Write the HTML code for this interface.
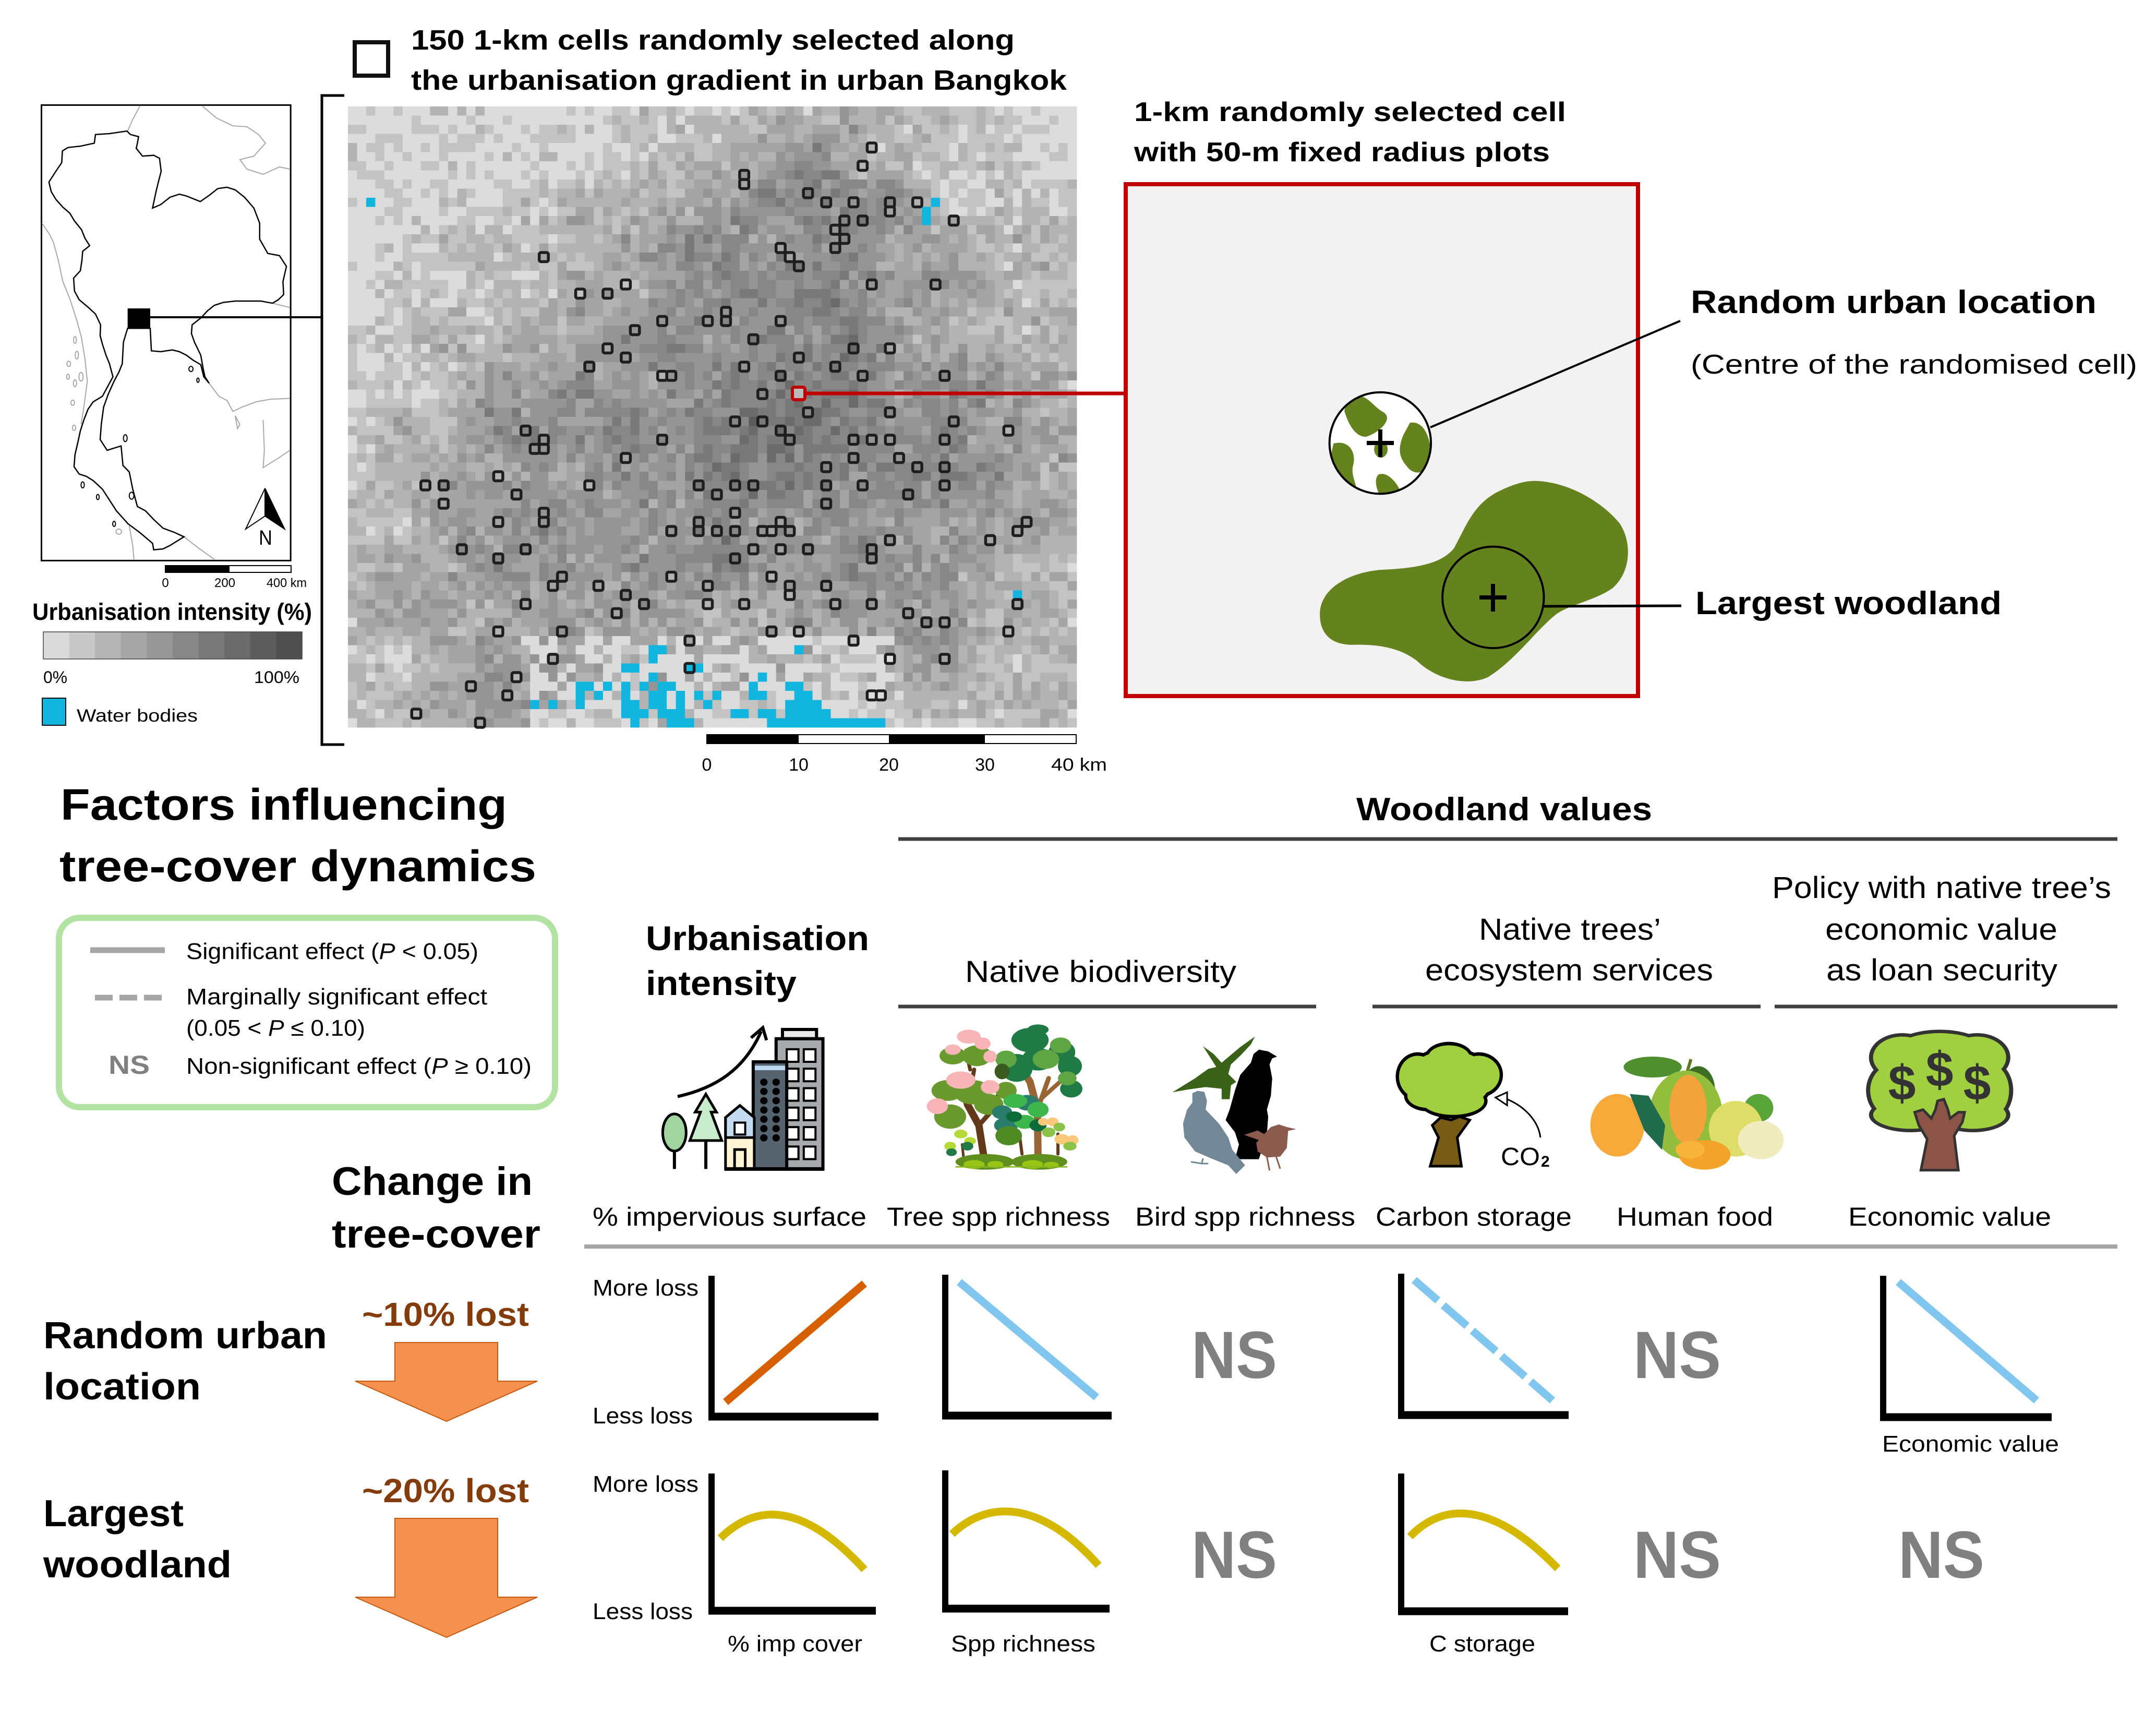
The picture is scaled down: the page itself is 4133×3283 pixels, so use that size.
<!DOCTYPE html>
<html><head><meta charset="utf-8">
<style>
html,body{margin:0;padding:0;background:#fff;width:4133px;height:3283px;overflow:hidden;}
svg{display:block;}
text{font-family:"Liberation Sans",Arial,sans-serif;}
.z *{vector-effect:non-scaling-stroke;}
.b{font-weight:bold;}
</style></head><body>
<svg id="main" xmlns="http://www.w3.org/2000/svg" width="4133" height="3283" viewBox="0 0 4133 3283">
<defs>
<radialGradient id="mapg" cx="0.58" cy="0.52" r="0.6">
<stop offset="0" stop-color="#8a8a8a"/><stop offset="0.5" stop-color="#a6a6a6"/><stop offset="1" stop-color="#d2d2d2"/>
</radialGradient>
<clipPath id="smallc"><ellipse cx="421" cy="877" rx="75" ry="122"/></clipPath>
</defs>
<rect width="4133" height="3283" fill="#fff"/>

<!-- ===== TOP TITLE ===== -->
<rect x="680" y="81" width="64" height="64" fill="none" stroke="#111" stroke-width="8"/>
<text x="788" y="95" font-size="54" class="b" textLength="1157" lengthAdjust="spacingAndGlyphs">150 1-km cells randomly selected along</text>
<text x="788" y="172" font-size="54" class="b" textLength="1257" lengthAdjust="spacingAndGlyphs">the urbanisation gradient in urban Bangkok</text>

<!-- ===== THAILAND MAP ===== -->
<svg class="z" x="0" y="150" width="700" height="1300" viewBox="0 0 1568 1568" preserveAspectRatio="none" overflow="visible">
<rect x="178" y="62" width="1070" height="1053" fill="#fff" stroke="#000" stroke-width="3"/>
<g fill="none" stroke="#a8a8a8" stroke-width="2">
<path d="M180,335 L212,360 L230,380 L250,420 L270,470 L300,510 L330,560 L350,600 L365,650 L375,700 L360,760 L348,800"/>
<path d="M600,65 L570,95 L548,122"/>
<path d="M870,65 L930,92 L1000,110 L1060,112 L1110,130 L1140,150 L1090,180 L1030,188 L1060,210 L1130,222 L1200,205 L1245,210"/>
<path d="M1170,520 L1245,530"/>
<path d="M898,705 L940,735 L975,745 L1000,770 L1040,760 L1100,748 L1160,742 L1245,740"/>
<path d="M1130,790 L1135,860 L1130,900 L1190,880 L1245,860"/>
<path d="M555,1035 L570,1080 L575,1112"/>
<path d="M790,1060 L850,1085 L920,1112"/>
<path d="M1010,780 L1030,800 L1020,810 Z"/>
<ellipse cx="322" cy="605" rx="6" ry="8"/><ellipse cx="330" cy="640" rx="7" ry="9"/><ellipse cx="295" cy="660" rx="8" ry="6"/>
<ellipse cx="292" cy="690" rx="6" ry="6"/><ellipse cx="322" cy="705" rx="7" ry="8"/><ellipse cx="348" cy="690" rx="9" ry="10"/>
<ellipse cx="312" cy="750" rx="8" ry="6"/><ellipse cx="318" cy="808" rx="7" ry="6"/><ellipse cx="510" cy="1048" rx="12" ry="6"/>
</g>
<path fill="none" stroke="#000" stroke-width="2.5" d="M210,240 L240,215 L265,195 L268,168 L292,160 L345,157 L405,150 L410,130 L470,128 L545,122 L560,130 L595,135 L590,150 L585,162 L612,180 L660,178 L685,185 L692,215 L680,240 L670,262 L655,300 L690,292 L730,275 L770,268 L800,272 L860,285 L900,270 L935,255 L975,252 L1010,258 L1050,275 L1090,300 L1115,335 L1115,372 L1150,405 L1200,410 L1230,435 L1215,470 L1218,500 L1195,512 L1170,520 L1120,515 L1075,515 L1010,515 L960,518 L920,525 L890,538 L865,553 L825,570 L822,590 L835,610 L862,640 L872,670 L880,690 L898,705 L875,690 L862,662 L830,652 L800,640 L770,632 L740,628 L690,632 L650,630 L645,578 L548,578 L540,592 L530,610 L525,660 L510,680 L490,700 L465,730 L445,760 L435,800 L430,835 L460,860 L490,855 L520,850 L528,895 L555,910 L570,950 L590,990 L625,1000 L660,1020 L700,1040 L750,1050 L790,1060 L730,1080 L700,1088 L660,1090 L655,1075 L600,1050 L550,1030 L500,1000 L470,975 L440,950 L400,930 L370,920 L340,915 L318,898 L322,870 L335,840 L345,815 L360,790 L378,765 L400,748 L440,735 L470,705 L485,690 L470,660 L455,640 L440,615 L430,595 L432,570 L410,545 L380,530 L340,512 L320,492 L316,462 L345,445 L352,420 L355,400 L385,387 L365,370 L350,350 L320,330 L300,312 L270,298 L240,280 L220,262 Z"/>
<g fill="none" stroke="#000" stroke-width="2">
<ellipse cx="538" cy="832" rx="8" ry="8"/><ellipse cx="355" cy="940" rx="7" ry="7"/><ellipse cx="420" cy="968" rx="6" ry="6"/>
<ellipse cx="490" cy="1030" rx="6" ry="6"/><ellipse cx="565" cy="965" rx="10" ry="8"/><ellipse cx="820" cy="672" rx="9" ry="6"/><ellipse cx="850" cy="698" rx="5" ry="5"/>
</g>
<rect x="548" y="532" width="97" height="46" fill="#000"/>
<polygon points="1055,1042 1138,948 1138,1012" fill="#fff" stroke="#000" stroke-width="2"/>
<polygon points="1138,948 1222,1042 1138,1012" fill="#000" stroke="#000" stroke-width="2"/>
</svg>
<text x="496" y="1044" font-size="40" textLength="26" lengthAdjust="spacingAndGlyphs">N</text>
<line x1="288" y1="608" x2="617" y2="608" stroke="#000" stroke-width="4"/>
<rect x="317" y="1084" width="241" height="13" fill="#fff" stroke="#000" stroke-width="2"/>
<rect x="317" y="1084" width="123" height="13" fill="#000"/>
<text x="317" y="1125" font-size="24" text-anchor="middle">0</text>
<text x="431" y="1125" font-size="24" text-anchor="middle">200</text>
<text x="511" y="1125" font-size="24" textLength="77" lengthAdjust="spacingAndGlyphs">400 km</text>
<text x="62" y="1188" font-size="45" class="b" textLength="536" lengthAdjust="spacingAndGlyphs">Urbanisation intensity (%)</text>
<g>
<rect x="83" y="1211" width="50" height="52" fill="#dadada"/>
<rect x="132.6" y="1211" width="50" height="52" fill="#c8c8c8"/>
<rect x="182.2" y="1211" width="50" height="52" fill="#b5b5b5"/>
<rect x="231.8" y="1211" width="50" height="52" fill="#a6a6a6"/>
<rect x="281.4" y="1211" width="50" height="52" fill="#979797"/>
<rect x="331" y="1211" width="50" height="52" fill="#888888"/>
<rect x="380.6" y="1211" width="50" height="52" fill="#797979"/>
<rect x="430.2" y="1211" width="50" height="52" fill="#6b6b6b"/>
<rect x="479.8" y="1211" width="50" height="52" fill="#5d5d5d"/>
<rect x="529.4" y="1211" width="49.6" height="52" fill="#4f4f4f"/>
<rect x="83" y="1211" width="496" height="52" fill="none" stroke="#444" stroke-width="1.5"/>
</g>
<text x="83" y="1309" font-size="32" textLength="46" lengthAdjust="spacingAndGlyphs">0%</text>
<text x="487" y="1309" font-size="32" textLength="87" lengthAdjust="spacingAndGlyphs">100%</text>
<rect x="81" y="1338" width="45" height="52" fill="#12b5de" stroke="#111" stroke-width="2"/>
<text x="147" y="1383" font-size="34" textLength="232" lengthAdjust="spacingAndGlyphs">Water bodies</text>

<path d="M660,183 L617,183 L617,1427 L660,1427" fill="none" stroke="#000" stroke-width="5"/>

<!-- ===== BANGKOK MAP ===== -->
<rect x="667" y="204" width="1397" height="1190" fill="url(#mapg)"/>
<g id="cells"></g>
<g id="sel" fill="none" stroke="#1e1e1e" stroke-width="5.5"></g>
<line x1="1543" y1="754" x2="2156" y2="754" stroke="#c00000" stroke-width="7"/>
<rect x="1519" y="742" width="24" height="24" rx="4" fill="#bbb" stroke="#c00000" stroke-width="6"/>
<rect x="1355" y="1408" width="708" height="17" fill="#fff" stroke="#000" stroke-width="2"/>
<rect x="1355" y="1408" width="176" height="17" fill="#000"/>
<rect x="1704" y="1408" width="184" height="17" fill="#000"/>
<text x="1355" y="1477" font-size="34" text-anchor="middle">0</text>
<text x="1531" y="1477" font-size="34" text-anchor="middle">10</text>
<text x="1704" y="1477" font-size="34" text-anchor="middle">20</text>
<text x="1888" y="1477" font-size="34" text-anchor="middle">30</text>
<text x="2015" y="1477" font-size="34" textLength="107" lengthAdjust="spacingAndGlyphs">40 km</text>

<!-- ===== RED BOX ===== -->
<text x="2174" y="232" font-size="52" class="b" textLength="828" lengthAdjust="spacingAndGlyphs">1-km randomly selected cell</text>
<text x="2174" y="309" font-size="52" class="b" textLength="797" lengthAdjust="spacingAndGlyphs">with 50-m fixed radius plots</text>
<rect x="2158" y="353" width="982" height="981" fill="#f2f2f2" stroke="#c00000" stroke-width="8"/>
<svg class="z" x="2100" y="150" width="2033" height="1250" viewBox="0 0 1568 1568" preserveAspectRatio="none" overflow="visible">
<path fill="#64821e" d="M650,968 C700,970 750,1020 775,1070 C795,1120 790,1190 765,1225 C740,1255 700,1265 680,1290 C650,1330 620,1400 580,1440 C545,1465 500,1440 475,1400 C450,1370 420,1360 380,1362 C340,1362 330,1320 332,1280 C335,1230 370,1190 420,1182 C470,1178 510,1170 530,1130 C550,1070 560,1020 600,990 C620,975 635,968 650,968 Z"/>
<ellipse cx="421" cy="877" rx="75" ry="122" fill="#fff"/>
<g clip-path="url(#smallc)" fill="#64821e">
<path d="M372,765 C400,750 410,790 425,802 C442,818 420,852 400,862 C384,862 374,832 368,800 Z"/>
<path d="M465,828 C490,822 497,880 497,920 C492,952 470,957 460,932 C445,905 450,880 455,858 Z"/>
<path d="M352,878 C375,868 386,900 381,930 C376,960 392,985 382,997 C360,992 346,950 346,920 Z"/>
<path d="M418,953 C432,943 447,975 452,997 L420,1002 C415,985 412,965 418,953 Z"/>
<ellipse cx="422" cy="892" rx="10" ry="20"/>
</g>
<ellipse cx="421" cy="877" rx="75" ry="122" fill="none" stroke="#000" stroke-width="4"/>
<ellipse cx="588" cy="1248" rx="75" ry="122" fill="none" stroke="#000" stroke-width="4"/>
</svg>
<path d="M2620,849 H2672 M2646,823 V876" stroke="#000" stroke-width="8"/>
<path d="M2836,1145 H2888 M2862,1119 V1172" stroke="#000" stroke-width="8"/>
<line x1="2742" y1="819" x2="3221" y2="615" stroke="#000" stroke-width="4"/>
<line x1="2958" y1="1162" x2="3223" y2="1161" stroke="#000" stroke-width="5"/>
<text x="3241" y="600" font-size="62" class="b" textLength="778" lengthAdjust="spacingAndGlyphs">Random urban location</text>
<text x="3241" y="716" font-size="52" textLength="856" lengthAdjust="spacingAndGlyphs">(Centre of the randomised cell)</text>
<text x="3250" y="1177" font-size="62" class="b" textLength="587" lengthAdjust="spacingAndGlyphs">Largest woodland</text>

<!-- ===== BOTTOM LEFT ===== -->
<text x="116" y="1571" font-size="84" class="b" textLength="856" lengthAdjust="spacingAndGlyphs">Factors influencing</text>
<text x="114" y="1689" font-size="84" class="b" textLength="914" lengthAdjust="spacingAndGlyphs">tree-cover dynamics</text>
<rect x="113" y="1759" width="951" height="363" rx="40" fill="none" stroke="#b3e3a3" stroke-width="12"/>
<line x1="173" y1="1821" x2="316" y2="1821" stroke="#a6a6a6" stroke-width="11"/>
<line x1="182" y1="1912" x2="312" y2="1912" stroke="#a6a6a6" stroke-width="11" stroke-dasharray="34 13"/>
<text x="357" y="1838" font-size="44" textLength="560" lengthAdjust="spacingAndGlyphs">Significant effect (<tspan font-style="italic">P</tspan> &lt; 0.05)</text>
<text x="357" y="1925" font-size="44" textLength="577" lengthAdjust="spacingAndGlyphs">Marginally significant effect</text>
<text x="357" y="1985" font-size="44" textLength="343" lengthAdjust="spacingAndGlyphs">(0.05 &lt; <tspan font-style="italic">P</tspan> ≤ 0.10)</text>
<text x="208" y="2058" font-size="50" class="b" fill="#808080" textLength="79" lengthAdjust="spacingAndGlyphs">NS</text>
<text x="357" y="2058" font-size="44" textLength="662" lengthAdjust="spacingAndGlyphs">Non-significant effect (<tspan font-style="italic">P</tspan> ≥ 0.10)</text>

<text x="636" y="2290" font-size="76" class="b" textLength="385" lengthAdjust="spacingAndGlyphs">Change in</text>
<text x="636" y="2391" font-size="76" class="b" textLength="400" lengthAdjust="spacingAndGlyphs">tree-cover</text>

<text x="83" y="2584" font-size="72" class="b" textLength="544" lengthAdjust="spacingAndGlyphs">Random urban</text>
<text x="83" y="2682" font-size="72" class="b" textLength="302" lengthAdjust="spacingAndGlyphs">location</text>
<text x="83" y="2925" font-size="72" class="b" textLength="269" lengthAdjust="spacingAndGlyphs">Largest</text>
<text x="83" y="3023" font-size="72" class="b" textLength="361" lengthAdjust="spacingAndGlyphs">woodland</text>

<text x="694" y="2541" font-size="64" class="b" fill="#843c0c" textLength="320" lengthAdjust="spacingAndGlyphs">~10% lost</text>
<text x="694" y="2879" font-size="64" class="b" fill="#843c0c" textLength="320" lengthAdjust="spacingAndGlyphs">~20% lost</text>
<path d="M757,2573 L954,2573 L954,2647 L1030,2647 L856,2724 L681,2647 L757,2647 Z" fill="#f4914f" stroke="#c55a11" stroke-width="2"/>
<path d="M757,2910 L954,2910 L954,3061 L1030,3061 L856,3138 L681,3061 L757,3061 Z" fill="#f4914f" stroke="#c55a11" stroke-width="2"/>

<!-- ===== HEADERS ===== -->
<text x="2600" y="1572" font-size="62" class="b" textLength="567" lengthAdjust="spacingAndGlyphs">Woodland values</text>
<line x1="1722" y1="1608" x2="4059" y2="1608" stroke="#404040" stroke-width="7"/>
<text x="1238" y="1821" font-size="66" class="b" textLength="428" lengthAdjust="spacingAndGlyphs">Urbanisation</text>
<text x="1238" y="1907" font-size="66" class="b" textLength="289" lengthAdjust="spacingAndGlyphs">intensity</text>
<text x="1850" y="1882" font-size="58" textLength="520" lengthAdjust="spacingAndGlyphs">Native biodiversity</text>
<text x="2835" y="1801" font-size="58" textLength="349" lengthAdjust="spacingAndGlyphs">Native trees’</text>
<text x="2732" y="1879" font-size="58" textLength="552" lengthAdjust="spacingAndGlyphs">ecosystem services</text>
<text x="3397" y="1721" font-size="58" textLength="650" lengthAdjust="spacingAndGlyphs">Policy with native tree’s</text>
<text x="3499" y="1801" font-size="58" textLength="445" lengthAdjust="spacingAndGlyphs">economic value</text>
<text x="3501" y="1879" font-size="58" textLength="443" lengthAdjust="spacingAndGlyphs">as loan security</text>
<line x1="1722" y1="1929" x2="2523" y2="1929" stroke="#404040" stroke-width="7"/>
<line x1="2631" y1="1929" x2="3375" y2="1929" stroke="#404040" stroke-width="7"/>
<line x1="3402" y1="1929" x2="4059" y2="1929" stroke="#404040" stroke-width="7"/>

<text x="1136" y="2349" font-size="50" textLength="525" lengthAdjust="spacingAndGlyphs">% impervious surface</text>
<text x="1700" y="2349" font-size="50" textLength="428" lengthAdjust="spacingAndGlyphs">Tree spp richness</text>
<text x="2176" y="2349" font-size="50" textLength="422" lengthAdjust="spacingAndGlyphs">Bird spp richness</text>
<text x="2637" y="2349" font-size="50" textLength="376" lengthAdjust="spacingAndGlyphs">Carbon storage</text>
<text x="3099" y="2349" font-size="50" textLength="300" lengthAdjust="spacingAndGlyphs">Human food</text>
<text x="3543" y="2349" font-size="50" textLength="389" lengthAdjust="spacingAndGlyphs">Economic value</text>
<line x1="1120" y1="2389" x2="4059" y2="2389" stroke="#a6a6a6" stroke-width="8"/>

<!-- ===== ICONS ===== -->
<svg class="z" x="1100" y="1500" width="1600" height="900" viewBox="0 0 1568 1568" preserveAspectRatio="none" overflow="visible">
<path d="M195,1048 C265,1020 320,960 352,830" fill="none" stroke="#000" stroke-width="6"/>
<path d="M333,852 L355,818 L362,860" fill="none" stroke="#000" stroke-width="6"/>
<rect x="392" y="824" width="64" height="31" fill="#eaeaea" stroke="#000" stroke-width="6"/>
<rect x="380" y="855" width="88" height="435" fill="#a8abae" stroke="#000" stroke-width="6"/>
<g fill="#fff" stroke="#000" stroke-width="4">
<rect x="400" y="890" width="22" height="42"/><rect x="432" y="890" width="22" height="42"/>
<rect x="400" y="955" width="22" height="42"/><rect x="432" y="955" width="22" height="42"/>
<rect x="400" y="1020" width="22" height="42"/><rect x="432" y="1020" width="22" height="42"/>
<rect x="400" y="1085" width="22" height="42"/><rect x="432" y="1085" width="22" height="42"/>
<rect x="400" y="1150" width="22" height="42"/><rect x="432" y="1150" width="22" height="42"/>
<rect x="400" y="1215" width="22" height="42"/><rect x="432" y="1215" width="22" height="42"/>
</g>
<rect x="337" y="932" width="63" height="358" fill="#55646f" stroke="#000" stroke-width="6"/>
<rect x="340" y="945" width="57" height="15" fill="#bcd9f2"/>
<g fill="#000">
<ellipse cx="357" cy="1000" rx="7" ry="12"/><ellipse cx="380" cy="1000" rx="7" ry="12"/>
<ellipse cx="357" cy="1031" rx="7" ry="12"/><ellipse cx="380" cy="1031" rx="7" ry="12"/>
<ellipse cx="357" cy="1062" rx="7" ry="12"/><ellipse cx="380" cy="1062" rx="7" ry="12"/>
<ellipse cx="357" cy="1093" rx="7" ry="12"/><ellipse cx="380" cy="1093" rx="7" ry="12"/>
<ellipse cx="357" cy="1124" rx="7" ry="12"/><ellipse cx="380" cy="1124" rx="7" ry="12"/>
<ellipse cx="357" cy="1155" rx="7" ry="12"/><ellipse cx="380" cy="1155" rx="7" ry="12"/>
<ellipse cx="357" cy="1186" rx="7" ry="12"/><ellipse cx="380" cy="1186" rx="7" ry="12"/>
</g>
<polygon points="285,1118 312,1078 339,1118 339,1290 285,1290" fill="#fff4d4" stroke="#000" stroke-width="5"/>
<polygon points="285,1118 312,1078 339,1118 339,1185 285,1185" fill="#c4dcf2" stroke="#000" stroke-width="5"/>
<rect x="302" y="1225" width="20" height="65" fill="#fff4d4" stroke="#000" stroke-width="5"/>
<rect x="302" y="1135" width="20" height="40" fill="#fff" stroke="#000" stroke-width="4"/>
<polygon points="248,1040 268,1100 258,1100 278,1195 218,1195 238,1100 228,1100" fill="#c8eccb" stroke="#000" stroke-width="5"/>
<line x1="248" y1="1195" x2="248" y2="1290" stroke="#000" stroke-width="6"/>
<ellipse cx="189" cy="1168" rx="22" ry="62" fill="#a2d49f" stroke="#000" stroke-width="5"/>
<line x1="189" y1="1230" x2="189" y2="1290" stroke="#000" stroke-width="6"/>
<line x1="283" y1="1290" x2="470" y2="1290" stroke="#000" stroke-width="7"/>
</svg>

<svg class="z" x="1750" y="1940" width="800" height="330" viewBox="0 0 1568 990" preserveAspectRatio="none" overflow="visible">
<g fill="none" stroke-linecap="round">
<path d="M265,815 L248,650 L205,530 L190,420" stroke="#62391a" stroke-width="14"/>
<path d="M248,650 L300,560 L320,480" stroke="#62391a" stroke-width="9"/>
<path d="M215,330 L200,220" stroke="#62391a" stroke-width="7"/>
<path d="M205,530 L230,330" stroke="#62391a" stroke-width="8"/>
<path d="M470,815 L468,560 L440,400 L410,330" stroke="#9a6535" stroke-width="14"/>
<path d="M468,560 L510,380" stroke="#9a6535" stroke-width="9"/>
<path d="M480,500 L560,390" stroke="#9a6535" stroke-width="8"/>
<path d="M410,815 L400,700" stroke="#62391a" stroke-width="6"/>
<path d="M545,815 L545,700" stroke="#62391a" stroke-width="6"/>
<path d="M190,830 L185,760" stroke="#62391a" stroke-width="5"/>
</g>
<g fill="#1f7a45">
<ellipse cx="440" cy="160" rx="70" ry="70"/><ellipse cx="470" cy="270" rx="60" ry="65"/>
<ellipse cx="390" cy="320" rx="60" ry="80"/><ellipse cx="560" cy="230" rx="50" ry="65"/>
<ellipse cx="590" cy="310" rx="45" ry="60"/><ellipse cx="595" cy="440" rx="42" ry="50"/><ellipse cx="470" cy="100" rx="40" ry="30"/>
</g>
<g fill="#5fa544">
<ellipse cx="500" cy="270" rx="50" ry="55"/><ellipse cx="555" cy="190" rx="40" ry="45"/><ellipse cx="350" cy="270" rx="40" ry="50"/><ellipse cx="580" cy="380" rx="35" ry="40"/>
</g>
<ellipse cx="335" cy="340" rx="28" ry="45" fill="#3a5a1f"/>
<g fill="#6a9a2e">
<ellipse cx="150" cy="250" rx="50" ry="50"/><ellipse cx="240" cy="250" rx="55" ry="60"/>
<ellipse cx="130" cy="450" rx="60" ry="60"/><ellipse cx="225" cy="460" rx="70" ry="70"/>
<ellipse cx="140" cy="600" rx="60" ry="70"/><ellipse cx="285" cy="530" rx="55" ry="60"/><ellipse cx="350" cy="450" rx="40" ry="50"/>
</g>
<g fill="#f7b5b8">
<ellipse cx="210" cy="140" rx="45" ry="40"/><ellipse cx="262" cy="180" rx="30" ry="35"/><ellipse cx="150" cy="215" rx="30" ry="30"/>
<ellipse cx="290" cy="255" rx="25" ry="35"/><ellipse cx="180" cy="390" rx="55" ry="50"/><ellipse cx="290" cy="430" rx="35" ry="40"/><ellipse cx="92" cy="540" rx="40" ry="45"/>
</g>
<g fill="#2a7d6b"><ellipse cx="335" cy="575" rx="38" ry="40"/><ellipse cx="430" cy="520" rx="45" ry="45"/><ellipse cx="350" cy="650" rx="45" ry="45"/></g>
<g fill="#3db74b"><ellipse cx="385" cy="510" rx="45" ry="40"/><ellipse cx="470" cy="560" rx="40" ry="45"/><ellipse cx="420" cy="630" rx="40" ry="40"/></g>
<g fill="#0d6b3a"><ellipse cx="470" cy="650" rx="32" ry="35"/><ellipse cx="380" cy="600" rx="30" ry="30"/></g>
<ellipse cx="360" cy="710" rx="50" ry="55" fill="#4f8a24"/>
<g fill="#f9c87a"><ellipse cx="490" cy="630" rx="20" ry="22"/><ellipse cx="525" cy="630" rx="22" ry="25"/><ellipse cx="560" cy="730" rx="28" ry="30"/><ellipse cx="600" cy="735" rx="22" ry="28"/></g>
<g fill="#8bc34a"><ellipse cx="510" cy="690" rx="25" ry="28"/><ellipse cx="550" cy="660" rx="22" ry="25"/><ellipse cx="590" cy="770" rx="25" ry="25"/></g>
<g fill="#b5d936"><ellipse cx="180" cy="700" rx="25" ry="25"/><ellipse cx="140" cy="770" rx="22" ry="25"/><ellipse cx="215" cy="740" rx="22" ry="22"/></g>
<g fill="#1f7a45"><ellipse cx="205" cy="770" rx="22" ry="25"/><ellipse cx="145" cy="805" rx="20" ry="22"/></g>
<g fill="#5e8f1f"><ellipse cx="270" cy="860" rx="110" ry="45"/><ellipse cx="475" cy="860" rx="105" ry="45"/></g>
<g fill="#98c414"><ellipse cx="230" cy="875" rx="40" ry="25"/><ellipse cx="450" cy="875" rx="40" ry="25"/><ellipse cx="310" cy="875" rx="30" ry="20"/><ellipse cx="520" cy="878" rx="28" ry="18"/></g>
<rect x="160" y="885" width="420" height="8" fill="#8ab820"/>
<polygon fill="#3b6219" points="975,460 1060,380 1110,325 1140,315 1090,195 1130,240 1160,290 1230,200 1285,140 1270,185 1230,250 1195,300 1185,355 1215,400 1195,420 1190,500 1160,500 1160,440 1100,430 1030,445"/>
<polygon fill="#000" points="1300,215 1335,225 1368,255 1350,265 1340,300 1350,380 1345,480 1330,560 1335,600 1330,700 1300,845 1210,845 1225,760 1210,690 1175,620 1190,560 1210,450 1230,360 1270,290 1280,240"/>
<polygon fill="#728897" points="1050,465 1070,452 1095,458 1105,510 1100,560 1150,640 1185,720 1200,790 1248,880 1215,930 1185,880 1120,840 1060,800 1020,720 1015,640 1030,560 1050,520"/>
<path d="M1090,840 L1085,870 L1045,860 M1085,870 L1110,870" fill="none" stroke="#728897" stroke-width="3"/>
<polygon fill="#8b5c4e" points="1245,705 1295,680 1320,700 1345,660 1375,645 1405,660 1440,672 1410,682 1408,720 1405,780 1380,830 1330,835 1295,800 1290,750 1300,735"/>
<path d="M1330,830 L1340,910 M1365,830 L1380,900" fill="none" stroke="#8b5c4e" stroke-width="3"/>
</svg>

<svg class="z" x="2650" y="1950" width="1250" height="320" viewBox="0 0 1568 960" preserveAspectRatio="none" overflow="visible">
<g fill="#000">
<ellipse cx="160" cy="230" rx="58" ry="90"/><ellipse cx="85" cy="340" rx="53" ry="140"/><ellipse cx="232" cy="330" rx="58" ry="130"/>
<ellipse cx="160" cy="360" rx="108" ry="190"/><ellipse cx="170" cy="480" rx="83" ry="100"/><ellipse cx="110" cy="450" rx="58" ry="90"/>
</g>
<polygon points="115,855 135,690 120,620 140,575 165,590 185,570 210,590 180,690 190,855" fill="#785c16" stroke="#000" stroke-width="5"/>
<g fill="#9fcf3e">
<ellipse cx="160" cy="230" rx="50" ry="70"/><ellipse cx="85" cy="340" rx="45" ry="120"/><ellipse cx="232" cy="330" rx="50" ry="110"/>
<ellipse cx="160" cy="360" rx="100" ry="170"/><ellipse cx="170" cy="480" rx="75" ry="80"/><ellipse cx="110" cy="450" rx="50" ry="70"/>
</g>
<path d="M380,690 C375,590 340,510 300,470" fill="none" stroke="#000" stroke-width="3"/>
<polygon points="272,460 300,430 300,505" fill="#fff" stroke="#000" stroke-width="3"/>
<ellipse cx="650" cy="285" rx="70" ry="60" fill="#4f8f2f"/>
<ellipse cx="760" cy="420" rx="40" ry="140" fill="#3e6e24"/>
<line x1="742" y1="240" x2="732" y2="320" stroke="#5c7a1e" stroke-width="6"/>
<ellipse cx="730" cy="560" rx="88" ry="255" fill="#93bd3c"/>
<ellipse cx="735" cy="530" rx="45" ry="200" fill="#f2a33a"/>
<ellipse cx="565" cy="620" rx="65" ry="180" fill="#f7a93a"/>
<polygon points="595,440 640,450 680,620 672,760 630,650" fill="#1f6b4c"/>
<ellipse cx="905" cy="520" rx="35" ry="80" fill="#5aa53a"/>
<ellipse cx="850" cy="640" rx="65" ry="160" fill="#dedd6a"/>
<ellipse cx="910" cy="705" rx="55" ry="110" fill="#f1ecc0"/>
<ellipse cx="775" cy="790" rx="62" ry="85" fill="#f4a32a"/>
<ellipse cx="740" cy="760" rx="35" ry="50" fill="#f7b53c"/>
<g fill="#333">
<ellipse cx="1340" cy="200" rx="120" ry="130"/><ellipse cx="1250" cy="230" rx="80" ry="140"/><ellipse cx="1430" cy="230" rx="80" ry="140"/>
<ellipse cx="1340" cy="380" rx="160" ry="270"/><ellipse cx="1228" cy="420" rx="65" ry="170"/><ellipse cx="1462" cy="420" rx="55" ry="170"/>
<ellipse cx="1270" cy="560" rx="100" ry="100"/><ellipse cx="1420" cy="560" rx="90" ry="100"/>
</g>
<g fill="#a0cf3f">
<ellipse cx="1340" cy="200" rx="110" ry="110"/><ellipse cx="1250" cy="230" rx="70" ry="120"/><ellipse cx="1430" cy="230" rx="70" ry="120"/>
<ellipse cx="1340" cy="380" rx="150" ry="250"/><ellipse cx="1228" cy="420" rx="55" ry="150"/><ellipse cx="1462" cy="420" rx="45" ry="150"/>
<ellipse cx="1270" cy="560" rx="90" ry="80"/><ellipse cx="1420" cy="560" rx="80" ry="80"/>
</g>
<polygon points="1295,878 1310,700 1290,620 1280,545 1300,530 1320,580 1330,530 1335,480 1350,470 1360,530 1365,580 1385,545 1400,545 1395,600 1375,680 1385,878" fill="#8b5446" stroke="#333" stroke-width="5"/>
</svg>
<text x="2877" y="2233" font-size="48" textLength="75" lengthAdjust="spacingAndGlyphs">CO</text>
<text x="2954" y="2236" font-size="30" class="b">2</text>
<text x="3646" y="2108" font-size="95" class="b" fill="#333" text-anchor="middle">$</text>
<text x="3718" y="2082" font-size="95" class="b" fill="#333" text-anchor="middle">$</text>
<text x="3790" y="2108" font-size="95" class="b" fill="#333" text-anchor="middle">$</text>

<!-- ===== CHARTS ===== -->
<g font-size="44">
<text x="1136" y="2483" textLength="203" lengthAdjust="spacingAndGlyphs">More loss</text>
<text x="1136" y="2728" textLength="192" lengthAdjust="spacingAndGlyphs">Less loss</text>
<text x="1136" y="2859" textLength="203" lengthAdjust="spacingAndGlyphs">More loss</text>
<text x="1136" y="3103" textLength="192" lengthAdjust="spacingAndGlyphs">Less loss</text>
<text x="3608" y="2782" textLength="339" lengthAdjust="spacingAndGlyphs">Economic value</text>
<text x="1395" y="3165" textLength="258" lengthAdjust="spacingAndGlyphs">% imp cover</text>
<text x="1823" y="3165" textLength="277" lengthAdjust="spacingAndGlyphs">Spp richness</text>
<text x="2740" y="3165" textLength="203" lengthAdjust="spacingAndGlyphs">C storage</text>
</g>
<g stroke="#000" fill="none">
<path d="M1364,2445 V2722" stroke-width="12"/><path d="M1358,2715 H1684" stroke-width="15"/>
<path d="M1812,2443 V2720" stroke-width="12"/><path d="M1806,2713 H2131" stroke-width="15"/>
<path d="M2686,2441 V2719" stroke-width="12"/><path d="M2680,2712 H3007" stroke-width="15"/>
<path d="M3610,2445 V2723" stroke-width="12"/><path d="M3604,2716 H3933" stroke-width="15"/>
<path d="M1364,2824 V3094" stroke-width="12"/><path d="M1358,3087 H1679" stroke-width="15"/>
<path d="M1812,2818 V3090" stroke-width="12"/><path d="M1806,3083 H2127" stroke-width="15"/>
<path d="M2686,2824 V3095" stroke-width="12"/><path d="M2680,3088 H3006" stroke-width="15"/>
</g>
<line x1="1391" y1="2687" x2="1657" y2="2460" stroke="#d65f00" stroke-width="15"/>
<line x1="1839" y1="2457" x2="2102" y2="2678" stroke="#80c6ee" stroke-width="15"/>
<line x1="2711" y1="2453" x2="2976" y2="2684" stroke="#80c6ee" stroke-width="15" stroke-dasharray="60 14"/>
<line x1="3639" y1="2457" x2="3904" y2="2684" stroke="#80c6ee" stroke-width="15"/>
<g fill="none" stroke="#d4b900" stroke-width="15">
<path d="M1381,2948 C1450,2880 1540,2880 1657,3008"/>
<path d="M1825,2940 C1890,2878 1990,2870 2106,3000"/>
<path d="M2703,2945 C2765,2880 2860,2875 2986,3006"/>
</g>
<g font-size="128" class="b" fill="#808080">
<text x="2284" y="2641" textLength="164" lengthAdjust="spacingAndGlyphs">NS</text>
<text x="3131" y="2641" textLength="168" lengthAdjust="spacingAndGlyphs">NS</text>
<text x="2284" y="3024" textLength="164" lengthAdjust="spacingAndGlyphs">NS</text>
<text x="3131" y="3024" textLength="168" lengthAdjust="spacingAndGlyphs">NS</text>
<text x="3639" y="3024" textLength="165" lengthAdjust="spacingAndGlyphs">NS</text>
</g>
</svg>
<script>
(function(){
var NS='http://www.w3.org/2000/svg';
var g=document.getElementById('cells');
var sg=document.getElementById('sel');
var x0=667,y0=204,cw=17.4625,ch=17.5,cols=80,rows=68;
var s=48271;
function rnd(){s=(s*16807)%2147483647;return s/2147483647;}
/* coarse smooth noise grid */
var GS=5, gc=Math.ceil(cols/GS)+2, gr=Math.ceil(rows/GS)+2, grid=[];
for(var a=0;a<gr*gc;a++){grid.push(rnd()*2-1);}
function sm(c,r){var fx=c/GS, fy=r/GS, ix=Math.floor(fx), iy=Math.floor(fy), tx=fx-ix, ty=fy-iy;
 tx=tx*tx*(3-2*tx); ty=ty*ty*(3-2*ty);
 var a00=grid[iy*gc+ix],a10=grid[iy*gc+ix+1],a01=grid[(iy+1)*gc+ix],a11=grid[(iy+1)*gc+ix+1];
 return (a00*(1-tx)+a10*tx)*(1-ty)+(a01*(1-tx)+a11*tx)*ty;}
var blobs=[[1481,831,356,283,0.85],[1563,378,150,190,0.6],[1097,944,274,190,0.55],[960,1274,205,142,0.4],[1851,897,205,236,0.42],[1851,1227,165,113,0.3],[1400,520,220,160,0.4]];
var lv=['#dcdcdc','#c3c3c3','#b3b3b3','#a4a4a4','#959595','#878787','#797979','#6b6b6b','#5d5d5d'];
var water={};
function addW(r,list){for(var i=0;i<list.length;i++){water[list[i]+','+r]=1;}}
water['2,10']=1;water['63,11']=1;water['63,12']=1;water['64,10']=1;water['73,53']=1;water['49,59']=1;
addW(59,[33,34]);addW(60,[33]);addW(61,[30,31,37,38]);addW(62,[33,45]);
addW(63,[25,26,28,30,32,34,35,44,48,49]);
addW(64,[25,27,30,33,34,36,38,40,44,45,49,50]);
addW(65,[20,22,25,30,31,33,34,36,39,48,49,50,51]);
addW(66,[30,31,32,34,35,36,42,43,45,46,48,49,50,51,52]);
addW(67,[31,35,36,37,46,47,48,49,50,51,52,53,54,55,56,57,58]);
var frag=document.createDocumentFragment();
for(var r=0;r<rows;r++){for(var c=0;c<cols;c++){
 var fx=x0+(c+0.5)*cw, fy=y0+(r+0.5)*ch;
 var q=1;
 for(var b=0;b<blobs.length;b++){var B=blobs[b];var dx=(fx-B[0])/B[2],dy=(fy-B[1])/B[3];q*=1-B[4]*Math.exp(-(dx*dx+dy*dy)/2);}
 var p=1-q;
 var t=p*5.8+sm(c,r)*1.1+(rnd()+rnd()-1)*2.0;
 var l=Math.round(t); if(l<0)l=0; if(l>8)l=8;
 var col=lv[l];
 if(water[c+','+r]) col='#12b5de';
 else if(r>=58 && c>=19 && c<=59 && rnd()<0.5) col='#dcdcdc';
 var e=document.createElementNS(NS,'rect');
 e.setAttribute('x',(x0+c*cw).toFixed(2));e.setAttribute('y',(y0+r*ch).toFixed(2));
 e.setAttribute('width',(cw+0.4).toFixed(2));e.setAttribute('height',(ch+0.4).toFixed(2));
 e.setAttribute('fill',col);frag.appendChild(e);
}}
g.appendChild(frag);
var pts=[1218,294,1206,330,1040,348,1040,368,1128,385,1155,403,1243,402,1243,421,1282,403,1192,420,1206,440,1333,457,1180,457,1168,475,1180,492,1168,510,760,513,1092,512,1105,530,1117,548,1218,583,1308,583,875,585,812,603,850,603,1015,637,1015,657,990,657,925,657,1092,657,888,675,1053,692,850,711,875,728,1193,710,1243,710,825,747,1117,728,1040,747,1168,747,925,765,940,765,1092,765,1206,765,1320,765,1067,801,1130,836,1243,836,1028,854,1067,854,1333,854,1092,872,1105,890,735,875,760,890,748,910,760,910,925,890,1193,890,1218,890,1243,890,1320,890,1408,872,875,928,1193,928,1257,928,1155,945,1282,945,1320,945,698,965,597,983,622,983,622,1020,825,983,978,983,1028,983,1053,983,1003,1000,1155,983,1206,983,1320,983,723,1000,1270,1000,1155,1018,1028,1035,760,1035,760,1055,698,1055,978,1055,978,1072,1003,1072,1028,1072,940,1072,1067,1072,1080,1072,1092,1055,1105,1072,1435,1052,1422,1072,1243,1090,1385,1090,647,1110,735,1110,1053,1108,1092,1108,1130,1108,1218,1108,698,1128,1028,1126,1218,1143,788,1162,773,1182,838,1182,940,1162,990,1182,1080,1162,1105,1182,1105,1200,1155,1182,875,1200,902,1218,735,1218,1168,1218,1218,1218,990,1235,1040,1235,1422,1235,863,1253,1270,1253,698,1273,1296,1270,1320,1270,788,1290,1080,1290,1117,1290,1408,1288,965,1307,1193,1307,775,1343,1243,1343,1320,1343,965,1360,723,1380,660,1398,710,1416,1218,1414,1232,1414,585,1452,673,1470];
var f2=document.createDocumentFragment();
for(var i=0;i<pts.length;i+=2){
 var X=pts[i]*1.3712, Y=pts[i+1]*0.9439;
 var cc=Math.floor((X-x0)/cw), rr=Math.floor((Y-y0)/ch);
 var e2=document.createElementNS(NS,'rect');
 e2.setAttribute('x',(x0+cc*cw).toFixed(2));e2.setAttribute('y',(y0+rr*ch).toFixed(2));
 e2.setAttribute('width',(cw).toFixed(2));e2.setAttribute('height',(ch).toFixed(2));
 e2.setAttribute('rx','3.5');f2.appendChild(e2);
}
sg.appendChild(f2);
})();
</script>
</body></html>
